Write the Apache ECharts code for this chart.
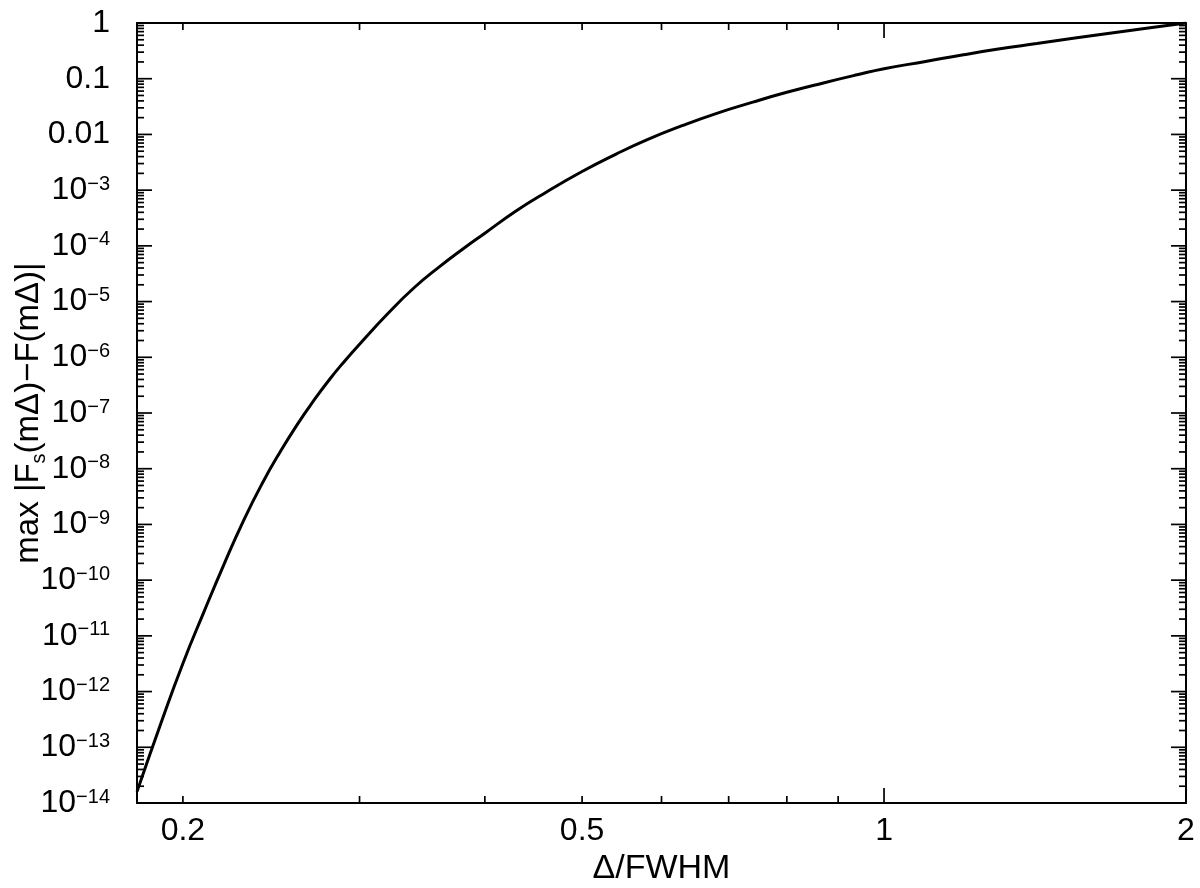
<!DOCTYPE html>
<html>
<head>
<meta charset="utf-8">
<script src="https://cdn.jsdelivr.net/npm/echarts@6/dist/echarts.min.js"></script>
<style>
  html, body { margin: 0; padding: 0; background: #fff; }
  #chart { width: 1200px; height: 888px; }
</style>
</head>
<body>
<div id="chart"></div>
<script>
// curve (log-log)
const deltaFwhm = [0.18, 0.19, 0.2, 0.21, 0.22, 0.23, 0.24, 0.25, 0.26, 0.27, 0.28, 0.29, 0.3, 0.32, 0.34, 0.36, 0.38, 0.4, 0.43, 0.46, 0.5, 0.54, 0.58, 0.63, 0.68, 0.74, 0.8, 0.87, 0.94, 1.0, 1.1, 1.2, 1.3, 1.42, 1.55, 1.7, 1.85, 2.0];
const maxError = [1.6e-14, 2.6e-13, 3.2e-12, 2.75e-11, 2.0e-10, 1.2e-9, 5.5e-9, 2.0e-8, 6.2e-8, 1.66e-7, 4.0e-7, 8.6e-7, 1.72e-6, 6.05e-6, 1.77e-5, 4.16e-5, 8.7e-5, 1.69e-4, 4.27e-4, 9.1e-4, 2.16e-3, 4.4e-3, 8.0e-3, 1.45e-2, 2.37e-2, 3.8e-2, 5.7e-2, 8.4e-2, 0.1175, 0.151, 0.204, 0.269, 0.34, 0.428, 0.537, 0.674, 0.828, 1.0];

// axis ticks and labels
const xTickLabels = ['0.2', '0.5', '1', '2'];
const xLabelValues = [0.2, 0.5, 1, 2];
const xMinorTicks = [0.2, 0.3, 0.4, 0.5, 0.6, 0.7, 0.8, 0.9];
const xMajorTicks = [1];
const yMinExp = -14;
const yMaxExp = 0;

const FONT = '"Liberation Sans", Arial, Helvetica, sans-serif';
const LABEL_SIZE = 32;
const SUP_SIZE = 20;
const MAJOR_LEN = 15;
const MINOR_LEN = 7;

const xTickData = xMinorTicks.map(v => [v, 1, MINOR_LEN])
  .concat(xMajorTicks.map(v => [v, 1, MAJOR_LEN]));

const yTickData = [];
const yLabelData = [];
for (let e = yMinExp; e <= yMaxExp; e += 1) {
  yTickData.push([1, Math.pow(10, e), MAJOR_LEN]);
  yLabelData.push([1, Math.pow(10, e), e]);
  if (e < yMaxExp) {
    for (let m = 2; m <= 9; m += 1) {
      yTickData.push([1, m * Math.pow(10, e), MINOR_LEN]);
    }
  }
}

const xLabelData = xLabelValues.map((v, i) => [v, 1, i]);

const tickStyle = { stroke: '#000', lineWidth: 1.7 };

function yLabel(e) {
  if (e === 0) return '1';
  if (e === -1) return '0.1';
  if (e === -2) return '0.01';
  return '10{sup|\u2212' + (-e) + '}';
}

const chart = echarts.init(document.getElementById('chart'));

const option = {
  backgroundColor: '#fff',
  animation: false,
  grid: {
    left: 137,
    right: 14,
    top: 23,
    bottom: 85,
    containLabel: false,
    outerBoundsMode: 'none',
  },
  xAxis: [
    {
      type: 'log',
      logBase: 10,
      min: 0.18,
      max: 2,
      position: 'bottom',
      name: '\u0394/FWHM',
      nameLocation: 'middle',
      nameGap: 49,
      nameTextStyle: { fontFamily: FONT, fontSize: 34, color: '#000' },
      axisLine: { show: true, lineStyle: { color: '#000', width: 2 } },
      axisTick: { show: false },
      axisLabel: { show: false },
      splitLine: { show: false },
      minorTick: { show: false },
    },
    {
      type: 'log',
      logBase: 10,
      min: 0.18,
      max: 2,
      position: 'top',
      axisLine: { show: true, lineStyle: { color: '#000', width: 2 } },
      axisTick: { show: false },
      axisLabel: { show: false },
      splitLine: { show: false },
    },
  ],
  yAxis: [
    {
      type: 'log',
      logBase: 10,
      min: 1e-14,
      max: 1,
      position: 'left',
      name: 'max |F{sub|s}(m\u0394)\u2212F(m\u0394)|',
      nameLocation: 'middle',
      nameGap: 92,
      nameTextStyle: {
        fontFamily: FONT,
        fontSize: 33,
        color: '#000',
        rich: {
          sub: { fontFamily: FONT, fontSize: 20, color: '#000', verticalAlign: 'bottom', lineHeight: 20, padding: [0, 0, -4, 0] },
        },
      },
      axisLine: { show: true, lineStyle: { color: '#000', width: 2 } },
      axisTick: { show: false },
      axisLabel: { show: false },
      splitLine: { show: false },
    },
    {
      type: 'log',
      logBase: 10,
      min: 1e-14,
      max: 1,
      position: 'right',
      axisLine: { show: true, lineStyle: { color: '#000', width: 2 } },
      axisTick: { show: false },
      axisLabel: { show: false },
      splitLine: { show: false },
    },
  ],
  series: [
    {
      type: 'line',
      xAxisIndex: 0,
      yAxisIndex: 0,
      data: deltaFwhm.map((x, i) => [x, maxError[i]]),
      showSymbol: false,
      smooth: 0.5,
      lineStyle: { color: '#000', width: 3 },
      silent: true,
    },
    {
      // x ticks on bottom and top, pointing inward
      type: 'custom',
      xAxisIndex: 0,
      yAxisIndex: 0,
      silent: true,
      data: xTickData,
      renderItem(params, api) {
        const cs = params.coordSys;
        const px = api.coord([api.value(0), 1])[0];
        const len = api.value(2);
        const bottom = cs.y + cs.height;
        return {
          type: 'group',
          children: [
            { type: 'line', shape: { x1: px, y1: bottom, x2: px, y2: bottom - len }, style: tickStyle },
            { type: 'line', shape: { x1: px, y1: cs.y, x2: px, y2: cs.y + len }, style: tickStyle },
          ],
        };
      },
    },
    {
      // y ticks on left and right, pointing inward
      type: 'custom',
      xAxisIndex: 0,
      yAxisIndex: 0,
      silent: true,
      data: yTickData,
      renderItem(params, api) {
        const cs = params.coordSys;
        const py = api.coord([1, api.value(1)])[1];
        const len = api.value(2);
        const right = cs.x + cs.width;
        return {
          type: 'group',
          children: [
            { type: 'line', shape: { x1: cs.x, y1: py, x2: cs.x + len, y2: py }, style: tickStyle },
            { type: 'line', shape: { x1: right, y1: py, x2: right - len, y2: py }, style: tickStyle },
          ],
        };
      },
    },
    {
      // x tick labels at 0.2, 0.5, 1, 2
      type: 'custom',
      xAxisIndex: 0,
      yAxisIndex: 0,
      silent: true,
      data: xLabelData,
      renderItem(params, api) {
        const cs = params.coordSys;
        const px = api.coord([api.value(0), 1])[0];
        return {
          type: 'text',
          x: px,
          y: cs.y + cs.height + 12,
          style: {
            text: xTickLabels[api.value(2)],
            font: LABEL_SIZE + 'px ' + FONT,
            fill: '#000',
            align: 'center',
            verticalAlign: 'top',
          },
        };
      },
    },
    {
      // y tick labels at every decade
      type: 'custom',
      xAxisIndex: 0,
      yAxisIndex: 0,
      silent: true,
      data: yLabelData,
      renderItem(params, api) {
        const cs = params.coordSys;
        const py = api.coord([1, api.value(1)])[1];
        return {
          type: 'text',
          x: cs.x - 27,
          y: py,
          style: {
            text: yLabel(api.value(2)),
            fontFamily: FONT,
            fontSize: LABEL_SIZE,
            fill: '#000',
            align: 'right',
            verticalAlign: 'middle',
            rich: {
              sup: { fontFamily: FONT, fontSize: SUP_SIZE, fill: '#000', verticalAlign: 'top', lineHeight: SUP_SIZE },
            },
          },
        };
      },
    },
  ],
};

chart.setOption(option);
</script>
</body>
</html>
